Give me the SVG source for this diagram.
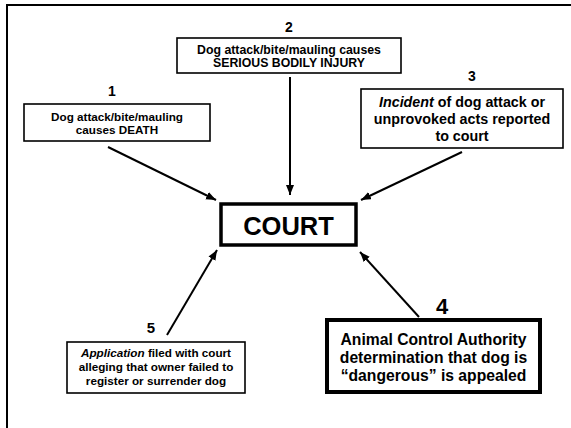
<svg xmlns="http://www.w3.org/2000/svg" width="571" height="428" viewBox="0 0 571 428">
<defs>
<marker id="ah" markerUnits="userSpaceOnUse" markerWidth="11" markerHeight="9" refX="10" refY="4" orient="auto">
<path d="M0,0 L10,4 L0,8 z" fill="#000"/>
</marker>
<style>
text{font-family:"Liberation Sans",Arial,sans-serif;fill:#000;text-anchor:middle;font-weight:bold}
.box{fill:#fff;stroke:#000;stroke-width:1.6}
.num{font-size:14px}
.conn line{stroke:#000;stroke-width:2;marker-end:url(#ah)}
</style>
</defs>
<rect width="571" height="428" fill="#fff"/>
<rect x="7" y="5" width="700" height="600" fill="none" stroke="#000" stroke-width="2"/>
<g class="conn" id="connectors">
<line x1="108" y1="147" x2="216" y2="200"/>
<line x1="290" y1="77" x2="290" y2="195"/>
<line x1="462" y1="152" x2="361" y2="200"/>
<line x1="167" y1="335" x2="217" y2="250"/>
<line x1="419" y1="317" x2="360" y2="252"/>
</g>
<g id="node1">
<text class="num" x="112" y="96">1</text>
<rect class="box" x="24" y="104" width="186" height="37"/>
<text x="117" y="121" font-size="11.7">Dog attack/bite/mauling</text>
<text x="117" y="134" font-size="11.7">causes DEATH</text>
</g>
<g id="node2">
<text class="num" x="289" y="32">2</text>
<rect class="box" x="177" y="38" width="224" height="35"/>
<text x="289" y="54" font-size="12.3">Dog attack/bite/mauling causes</text>
<text x="289" y="67" font-size="12.3">SERIOUS BODILY INJURY</text>
</g>
<g id="node3">
<text class="num" x="472" y="81" font-size="15">3</text>
<rect class="box" x="361" y="89" width="202" height="59"/>
<text x="462" y="107" font-size="14.3"><tspan font-style="italic">Incident</tspan> of dog attack or</text>
<text x="462" y="124" font-size="14.3">unprovoked acts reported</text>
<text x="462" y="141" font-size="14.3">to court</text>
</g>
<g id="court">
<rect x="221" y="204" width="135" height="41" fill="#fff" stroke="#000" stroke-width="3.5"/>
<text x="288.5" y="235" font-size="25.5">COURT</text>
</g>
<g id="node4">
<text x="442" y="314" font-size="22">4</text>
<rect x="327" y="320" width="213" height="72" fill="#fff" stroke="#000" stroke-width="4"/>
<text x="433.5" y="345" font-size="15.7">Animal Control Authority</text>
<text x="433.5" y="363" font-size="15.7">determination that dog is</text>
<text x="433.5" y="381" font-size="15.7">“dangerous” is appealed</text>
</g>
<g id="node5">
<text x="151" y="333" font-size="15">5</text>
<rect class="box" x="67" y="342" width="178" height="51"/>
<text x="156" y="357" font-size="11.7"><tspan font-style="italic">Application</tspan> filed with court</text>
<text x="156" y="371" font-size="11.7">alleging that owner failed to</text>
<text x="156" y="385" font-size="11.7">register or surrender dog</text>
</g>
</svg>
